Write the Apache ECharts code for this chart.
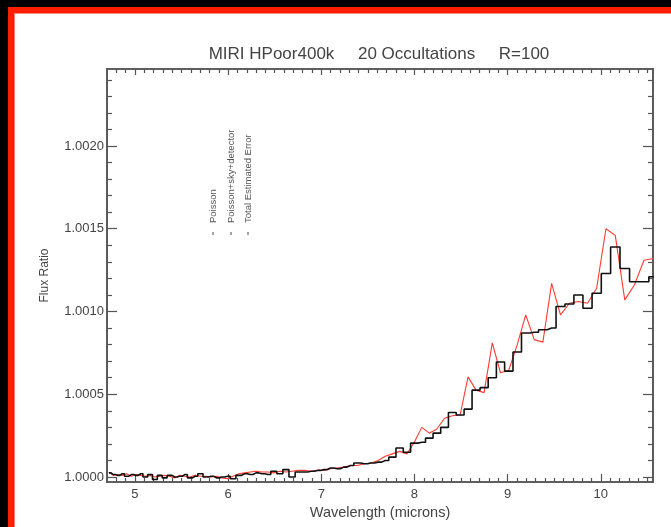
<!DOCTYPE html>
<html>
<head>
<meta charset="utf-8">
<script src="https://cdn.jsdelivr.net/npm/echarts@6/dist/echarts.min.js"></script>
<style>
  html, body { margin: 0; padding: 0; background: #ffffff; }
  #chart { width: 671px; height: 527px; }
</style>
</head>
<body>
<div id="chart"></div>
<script>
// Wavelength bin centres (microns), R = 100 sampling
const wavelength = [
  4.720, 4.767, 4.815, 4.863, 4.912, 4.961, 5.010, 5.061, 5.111, 5.162,
  5.214, 5.266, 5.319, 5.372, 5.426, 5.480, 5.535, 5.590, 5.646, 5.702,
  5.759, 5.817, 5.875, 5.934, 5.993, 6.053, 6.114, 6.175, 6.237, 6.299,
  6.362, 6.426, 6.490, 6.555, 6.620, 6.686, 6.753, 6.821, 6.889, 6.958,
  7.028, 7.098, 7.169, 7.240, 7.313, 7.386, 7.460, 7.534, 7.610, 7.686,
  7.763, 7.840, 7.919, 7.998, 8.078, 8.159, 8.240, 8.323, 8.406, 8.490,
  8.575, 8.661, 8.747, 8.835, 8.923, 9.012, 9.103, 9.194, 9.285, 9.378,
  9.472, 9.567, 9.663, 9.759, 9.857, 9.955, 10.055, 10.155, 10.257, 10.360,
  10.463, 10.568
];

// Binned flux ratio (black histogram)
const fluxBinned = [
  1.000025, 1.000015, 1.000010, 1.000020, 1.000005, 1.000015, 1.000010, 1.000020, 1.000000, 1.000015,
  0.999985, 1.000010, 0.999995, 1.000010, 1.000000, 1.000005, 1.000015, 0.999995, 1.000005, 1.000020,
  1.000000, 1.000005, 0.999995, 1.000000, 1.000005, 0.999990, 1.000010, 1.000020, 1.000015, 1.000025,
  1.000020, 1.000015, 1.000035, 1.000020, 1.000045, 1.000000, 1.000030, 1.000030, 1.000035, 1.000040,
  1.000045, 1.000055, 1.000050, 1.000060, 1.000070, 1.000085, 1.000080, 1.000085, 1.000090, 1.000100,
  1.000120, 1.000175, 1.000150, 1.000205, 1.000210, 1.000235, 1.000265, 1.000300, 1.000390, 1.000375,
  1.000410, 1.000525, 1.000540, 1.000600, 1.000695, 1.000640, 1.000755, 1.000870, 1.000875, 1.000890,
  1.000900, 1.001030, 1.001045, 1.001100, 1.001020, 1.001110, 1.001230, 1.001390, 1.001260, 1.001180,
  1.001180, 1.001210
];

// Model flux ratio (red line)
const fluxModel = [
  1.000030, 1.000010, 1.000015, 1.000010, 1.000020, 1.000005, 1.000015, 1.000010, 1.000005, 1.000010,
  1.000000, 1.000005, 1.000010, 1.000005, 0.999995, 1.000010, 1.000005, 1.000000, 1.000010, 1.000005,
  1.000005, 1.000000, 1.000005, 0.999995, 0.999990, 1.000005, 1.000020, 1.000025, 1.000030, 1.000035,
  1.000030, 1.000030, 1.000025, 1.000035, 1.000030, 1.000035, 1.000040, 1.000040, 1.000035, 1.000040,
  1.000040, 1.000050, 1.000055, 1.000060, 1.000070, 1.000070, 1.000080, 1.000085, 1.000100, 1.000125,
  1.000140, 1.000155, 1.000140, 1.000210, 1.000300, 1.000265, 1.000290, 1.000355, 1.000370, 1.000375,
  1.000605, 1.000525, 1.000510, 1.000810, 1.000630, 1.000645, 1.000800, 1.000980, 1.000830, 1.000815,
  1.001170, 1.000980, 1.001050, 1.001060, 1.001050, 1.001140, 1.001500, 1.001460, 1.001070, 1.001160,
  1.001310, 1.001320
];

// Tick labels
const xMajorTicks = [5, 6, 7, 8, 9, 10];
const yMajorTicks = [1.0000, 1.0005, 1.0010, 1.0015, 1.0020];
const legendLabels = ['Poisson', 'Poisson+sky+detector', 'Total Estimated Error'];
const titleText = 'MIRI HPoor400k     20 Occultations     R=100';
const xTitle = 'Wavelength (microns)';
const yTitle = 'Flux Ratio';

const X_MIN = 4.70, X_MAX = 10.56;
const Y_MIN = 0.99997, Y_MAX = 1.002465;

// Minor tick positions: every 0.1 micron and every 0.0001 in flux ratio
const xMinorTicks = [];
for (let i = 48; i <= 105; i++) { if (i % 10 !== 0) xMinorTicks.push(i / 10); }
const yMinorTicks = [];
for (let i = 0; i <= 24; i++) { if (i % 5 !== 0) yMinorTicks.push(Math.round((1 + i * 1e-4) * 1e5) / 1e5); }

const AXIS = '#555555';
const TEXT = '#444444';
const FONT = '"Liberation Sans", Arial, Helvetica, sans-serif';

function xAxisDef(position, ticks, len, withLabels) {
  return {
    type: 'value', position: position, min: X_MIN, max: X_MAX,
    axisLine: { show: true, onZero: false, lineStyle: { color: AXIS, width: 1.6 } },
    axisTick: { show: true, inside: true, length: len, customValues: ticks, lineStyle: { color: AXIS, width: 1.2 } },
    axisLabel: {
      show: withLabels, customValues: ticks, margin: 6, color: TEXT, fontSize: 13, fontFamily: FONT,
      formatter: v => String(v)
    },
    splitLine: { show: false },
    name: withLabels ? xTitle : '',
    nameLocation: 'middle', nameGap: 20,
    nameTextStyle: { color: TEXT, fontSize: 14.5, fontFamily: FONT }
  };
}

function yAxisDef(position, ticks, len, withLabels) {
  return {
    type: 'value', position: position, min: Y_MIN, max: Y_MAX,
    axisLine: { show: true, onZero: false, lineStyle: { color: AXIS, width: 1.6 } },
    axisTick: { show: true, inside: true, length: len, customValues: ticks, lineStyle: { color: AXIS, width: 1.2 } },
    axisLabel: {
      show: withLabels, customValues: ticks, margin: 3, color: TEXT, fontSize: 13, fontFamily: FONT,
      formatter: v => v.toFixed(4)
    },
    splitLine: { show: false },
    name: withLabels ? yTitle : '',
    nameLocation: 'middle', nameGap: 56,
    nameTextStyle: { color: TEXT, fontSize: 12, fontFamily: FONT }
  };
}

const binnedData = wavelength.map((w, i) => [w, fluxBinned[i]]);
const modelData = wavelength.map((w, i) => [w, fluxModel[i]]);

// Legend: rotated labels with short markers below
const legendX = [213, 231, 248];
const legendGraphics = [];
legendLabels.forEach((label, i) => {
  legendGraphics.push({
    type: 'text', x: legendX[i], y: 223, rotation: Math.PI / 2,
    style: { text: label, fill: '#555555', font: '9.5px ' + FONT, textAlign: 'left', textVerticalAlign: 'middle' }
  });
  legendGraphics.push({
    type: 'line', shape: { x1: legendX[i], y1: 232, x2: legendX[i], y2: 235 },
    style: { stroke: '#666666', lineWidth: 1.2 }
  });
});

const chart = echarts.init(document.getElementById('chart'), null, { renderer: 'canvas' });
chart.setOption({
  backgroundColor: '#ffffff',
  animation: false,
  grid: { left: 107, right: 18, top: 69, bottom: 45, containLabel: false },
  xAxis: [
    xAxisDef('bottom', xMajorTicks, 8, true),
    xAxisDef('top', xMajorTicks, 6, false),
    xAxisDef('top', xMinorTicks, 4, false),
    xAxisDef('bottom', xMinorTicks, 4, false)
  ],
  yAxis: [
    yAxisDef('left', yMajorTicks, 10, true),
    yAxisDef('right', yMajorTicks, 10, false),
    yAxisDef('right', yMinorTicks, 5, false),
    yAxisDef('left', yMinorTicks, 5, false)
  ],
  series: [
    {
      name: 'model', type: 'line', data: modelData, xAxisIndex: 0, yAxisIndex: 0,
      showSymbol: false, clip: true,
      lineStyle: { color: '#ff3b30', width: 1.1 }, z: 2
    },
    {
      name: 'binned', type: 'line', step: 'middle', data: binnedData, xAxisIndex: 0, yAxisIndex: 0,
      showSymbol: false, clip: true,
      lineStyle: { color: '#111111', width: 1.6 }, z: 3
    }
  ],
  graphic: [
    // outer frame: black edge with red band along the top and left
    { type: 'rect', shape: { x: 0, y: 0, width: 671, height: 7 }, style: { fill: '#000000' }, z: 10 },
    { type: 'rect', shape: { x: 0, y: 0, width: 8, height: 527 }, style: { fill: '#000000' }, z: 10 },
    { type: 'rect', shape: { x: 8, y: 7, width: 663, height: 6 }, style: { fill: '#ff1e00' }, z: 10 },
    { type: 'rect', shape: { x: 8, y: 7, width: 6, height: 520 }, style: { fill: '#ff1e00' }, z: 10 },
    { type: 'rect', shape: { x: 14, y: 13, width: 657, height: 1 }, style: { fill: '#ff8a7a' }, z: 10 },
    { type: 'rect', shape: { x: 14, y: 13, width: 1, height: 514 }, style: { fill: '#ff8a7a' }, z: 10 },
    {
      type: 'text', x: 379, y: 54,
      style: { text: titleText, fill: TEXT, font: '17px ' + FONT, textAlign: 'center', textVerticalAlign: 'middle' }
    }
  ].concat(legendGraphics)
});
</script>
</body>
</html>
